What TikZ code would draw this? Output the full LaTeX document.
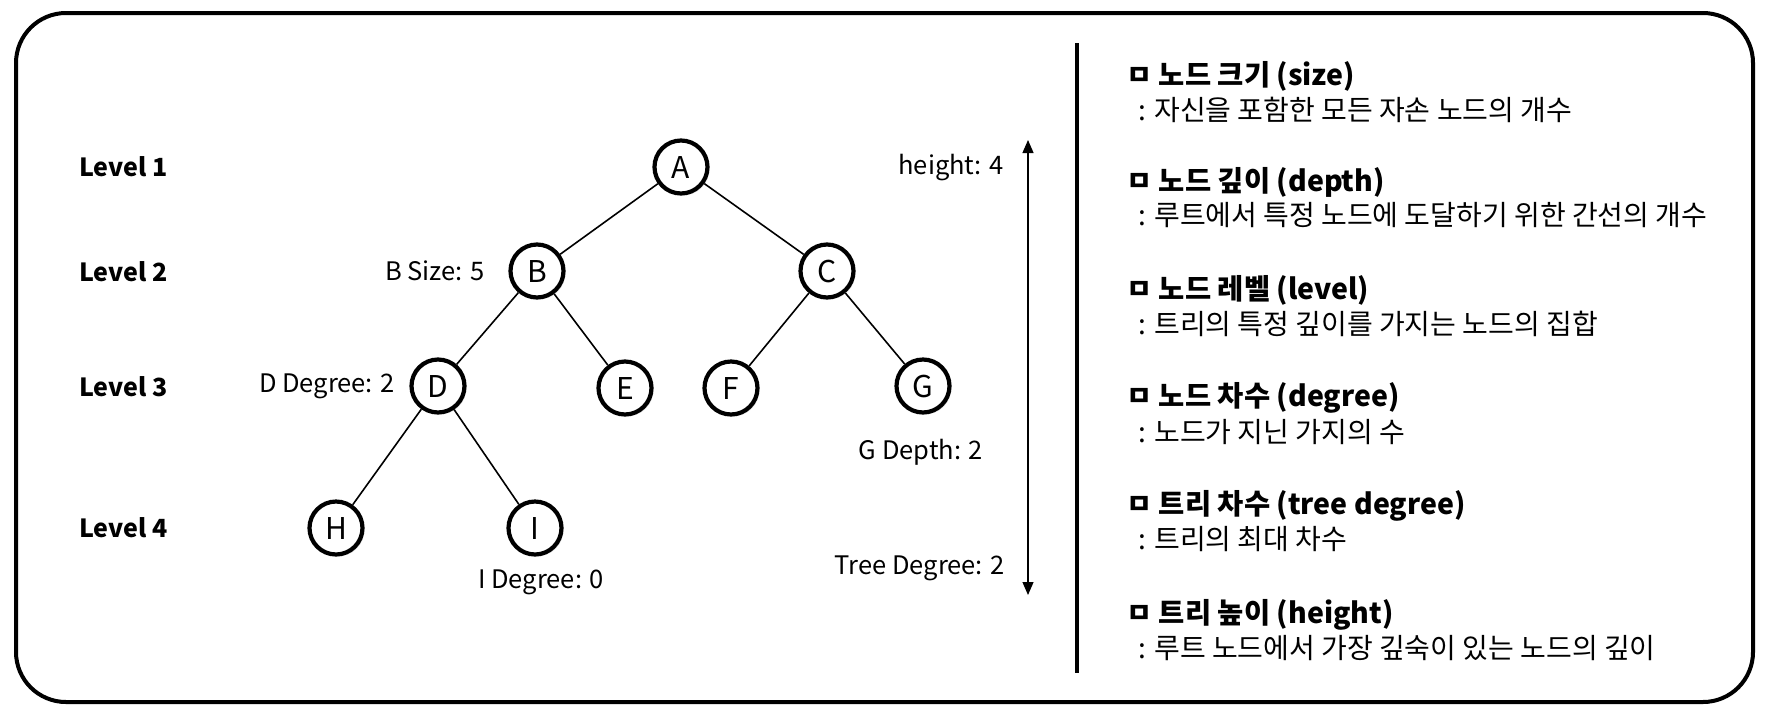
\documentclass[tikz,border=0pt]{standalone}
\usepackage{fontspec}
\setmainfont{Noto Sans CJK KR}
\usetikzlibrary{positioning,calc,arrows.meta,shadows}

\tikzset{
  treenode/.style={on grid, circle, draw, fill=white, line width=4.2pt, minimum size=53pt, inner sep=0pt,
    font=\fontsize{30}{30}\selectfont,
    drop shadow={shadow xshift=2pt, shadow yshift=-2pt, opacity=0.2}},
  branch/.style={line width=1.6pt},
  levellabel/.style={anchor=west, inner sep=0pt, font=\fontsize{25}{25}\selectfont\bfseries},
  note/.style={inner sep=0pt, font=\fontsize{25.5}{25.5}\selectfont},
  termtitle/.style={anchor=west, inner sep=0pt, font=\fontsize{28.5}{28.5}\selectfont\bfseries},
  termtext/.style={anchor=west, inner sep=0pt, font=\fontsize{28}{28}\selectfont},
}

\begin{document}
\begin{tikzpicture}[x=1pt, y=-1pt]
    \useasboundingbox (0,0) rectangle (1769,713);

    % outer frame
    \draw[line width=4pt, rounded corners=50pt] (16,13) rectangle (1753,702);

    % levels
    \node[levellabel] (lv1) at (79,167) {Level 1};
    \node[levellabel] (lv2) at (79,272) {Level 2};
    \node[levellabel] (lv3) at (79,387) {Level 3};
    \node[levellabel] (lv4) at (79,528) {Level 4};

    % tree
    \node[treenode] (A) at (681,167) {A};
    \node[treenode, below left=104pt and 144pt of A] (B) {B};
    \node[treenode, below right=104pt and 146pt of A] (C) {C};
    \node[treenode, below left=115pt and 99pt of B] (D) {D};
    \node[treenode, below right=117pt and 88pt of B] (E) {E};
    \node[treenode, below left=117pt and 96pt of C] (F) {F};
    \node[treenode, below right=115pt and 96pt of C] (G) {G};
    \node[treenode, below left=142pt and 102pt of D] (H) {H};
    \node[treenode, below right=142pt and 97pt of D] (I) {I};

    \draw[branch] (A) -- (B);
    \draw[branch] (A) -- (C);
    \draw[branch] (B) -- (D);
    \draw[branch] (B) -- (E);
    \draw[branch] (C) -- (F);
    \draw[branch] (C) -- (G);
    \draw[branch] (D) -- (H);
    \draw[branch] (D) -- (I);

    % notes
    \node[note, anchor=east] (bsize) at ($(B)+(-52,0)$) {B Size: 5};
    \node[note, anchor=east] (ddeg) at ($(D)+(-43,0)$) {D Degree: 2};
    \node[note] (ideg) at ($(I)+(6,54)$) {I Degree: 0};
    \node[note] (gdepth) at ($(G)+(-2,66)$) {G Depth: 2};
    \node[note, anchor=east] (hgt) at (1004,168) {height: 4};
    \node[note, anchor=east] (tdeg) at (1005,568) {Tree Degree: 2};

    % height arrow
    \coordinate (htop) at (1028,140);
    \coordinate (hbot) at (1028,595);
    \draw[line width=1.2pt, {Triangle[length=13pt,width=11pt]}-{Triangle[length=13pt,width=11pt]}] (htop) -- (hbot);

    % separator
    \coordinate (septop) at (1077,43);
    \coordinate (sepbot) at (1077,673);
    \draw[line width=4pt] (septop) -- (sepbot);

    % terms
    \node[termtitle] (t1) at (1126,76) {ㅁ 노드 크기 (size)};
    \node[termtext] (d1) at (1138,110) {: 자신을 포함한 모든 자손 노드의 개수};
    \node[termtitle] (t2) at (1126,182) {ㅁ 노드 깊이 (depth)};
    \node[termtext] (d2) at (1138,215) {: 루트에서 특정 노드에 도달하기 위한 간선의 개수};
    \node[termtitle] (t3) at (1126,290) {ㅁ 노드 레벨 (level)};
    \node[termtext] (d3) at (1138,324) {: 트리의 특정 깊이를 가지는 노드의 집합};
    \node[termtitle] (t4) at (1126,398) {ㅁ 노드 차수 (degree)};
    \node[termtext] (d4) at (1138,432) {: 노드가 지닌 가지의 수};
    \node[termtitle] (t5) at (1126,506) {ㅁ 트리 차수 (tree degree)};
    \node[termtext] (d5) at (1138,539) {: 트리의 최대 차수};
    \node[termtitle] (t6) at (1126,615) {ㅁ 트리 높이 (height)};
    \node[termtext] (d6) at (1138,648) {: 루트 노드에서 가장 깊숙이 있는 노드의 깊이};
\end{tikzpicture}
\end{document}
